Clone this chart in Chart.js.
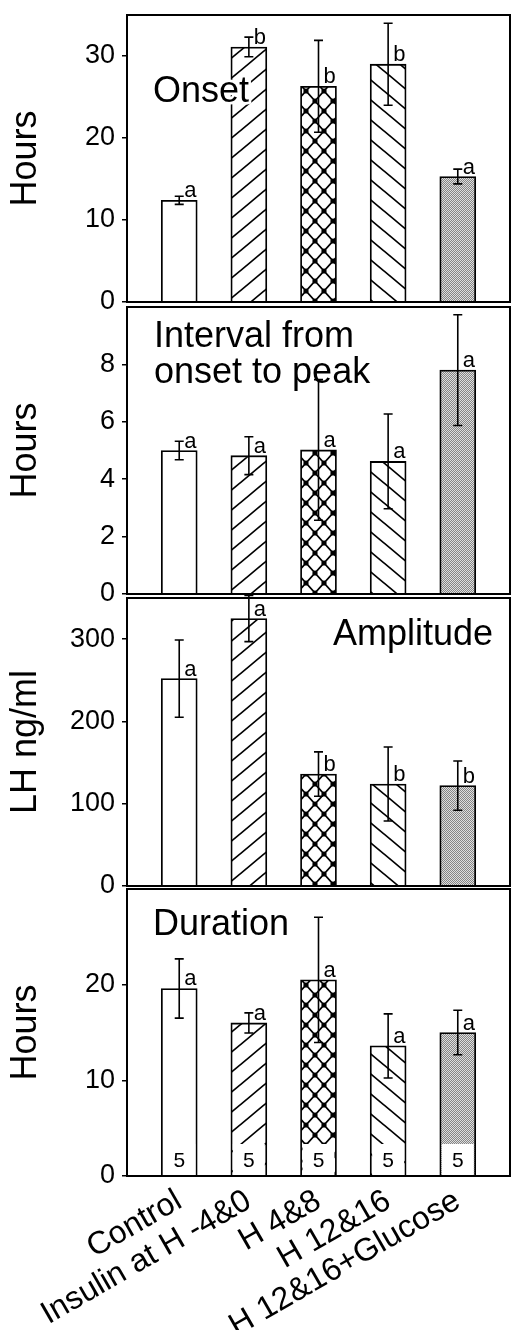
<!DOCTYPE html>
<html>
<head>
<meta charset="utf-8">
<script src="https://cdn.jsdelivr.net/npm/chart.js@4.4.1/dist/chart.umd.min.js"></script>
<style>
  html, body { margin: 0; padding: 0; background: #fff; }
  #wrap { position: relative; width: 512px; height: 1330px; overflow: hidden; }
  canvas { position: absolute; left: 0; }
</style>
</head>
<body>
<div id="wrap">
  <canvas id="onsetChart" width="512" height="335" style="top:-9px"></canvas>
  <canvas id="intervalChart" width="512" height="335" style="top:283px"></canvas>
  <canvas id="amplitudeChart" width="512" height="336" style="top:574px"></canvas>
  <canvas id="durationChart" width="512" height="465" style="top:865px"></canvas>
</div>
<script>
// data
const groups = ['Control', 'Insulin at H -4&0', 'H 4&8', 'H 12&16', 'H 12&16+Glucose'];

const onsetMean = [12.4, 31.1, 26.3, 29.0, 15.3];
const onsetErr = [0.5, 1.2, 5.6, 5.0, 0.9];
const onsetLetters = ['a', 'b', 'b', 'b', 'a'];

const intervalMean = [5.0, 4.82, 5.02, 4.62, 7.8];
const intervalErr = [0.32, 0.66, 2.45, 1.65, 1.93];
const intervalLetters = ['a', 'a', 'a', 'a', 'a'];

const amplitudeMean = [252, 325, 136, 124, 122];
const amplitudeErr = [47, 28, 27, 45, 30];
const amplitudeLetters = ['a', 'a', 'b', 'b', 'b'];

const durationMean = [19.6, 16.0, 20.5, 13.6, 15.0];
const durationErr = [3.1, 1.05, 6.55, 3.35, 2.33];
const durationLetters = ['a', 'a', 'a', 'a', 'a'];
const nAnimals = [5, 5, 5, 5, 5];

const FONT = '"Liberation Sans", Arial, Helvetica, sans-serif';

// pola isi batang
function hatch(dir) {
  const c = document.createElement('canvas');
  c.width = 24; c.height = 20;
  const g = c.getContext('2d');
  g.fillStyle = '#fff';
  g.fillRect(0, 0, 24, 20);
  g.strokeStyle = '#000';
  g.lineWidth = 1.7;
  for (let k = -1; k <= 1; k++) {
    g.beginPath();
    if (dir > 0) {
      g.moveTo(-24, 40 + k * 20);
      g.lineTo(48, -20 + k * 20);
    } else {
      g.moveTo(-24, -20 + k * 20);
      g.lineTo(48, 40 + k * 20);
    }
    g.stroke();
  }
  return g.createPattern(c, 'repeat');
}

function crossHatch() {
  const w = 18, h = 20;
  const c = document.createElement('canvas');
  c.width = w; c.height = h;
  const g = c.getContext('2d');
  g.fillStyle = '#fff';
  g.fillRect(0, 0, w, h);
  g.strokeStyle = '#000';
  g.lineWidth = 1.8;
  g.beginPath();
  g.moveTo(0, 0); g.lineTo(w, h);
  g.moveTo(w, 0); g.lineTo(0, h);
  g.stroke();
  g.fillStyle = '#000';
  [[0, 0], [w, 0], [0, h], [w, h], [w / 2, h / 2]].forEach(p => {
    g.beginPath();
    g.arc(p[0], p[1], 2.6, 0, Math.PI * 2);
    g.fill();
  });
  return g.createPattern(c, 'repeat');
}

function stipple() {
  const c = document.createElement('canvas');
  c.width = 2; c.height = 2;
  const g = c.getContext('2d');
  g.fillStyle = '#dedede';
  g.fillRect(0, 0, 2, 2);
  g.fillStyle = '#858585';
  g.fillRect(0, 0, 1, 1);
  g.fillRect(1, 1, 1, 1);
  return g.createPattern(c, 'repeat');
}

const barFills = ['#ffffff', hatch(1), crossHatch(), hatch(-1), stipple()];

// kotak panel, judul, error bar, huruf, jumlah n
const panelDecor = {
  id: 'panelDecor',
  afterDatasetsDraw(chart, args, opts) {
    const { ctx, chartArea: a, scales: { x, y } } = chart;
    ctx.save();

    if (opts.counts) {
      const y0 = y.getPixelForValue(0);
      opts.counts.forEach((n, i) => {
        const px = x.getPixelForValue(i + 1);
        ctx.fillStyle = '#fff';
        ctx.fillRect(px - 16, y0 - 32, 32, 32);
        ctx.fillStyle = '#000';
        ctx.font = '21px ' + FONT;
        ctx.textAlign = 'center';
        ctx.textBaseline = 'alphabetic';
        ctx.fillText(String(n), px, y0 - 9);
      });
    }

    // judul panel
    ctx.font = '36px ' + FONT;
    ctx.textBaseline = 'alphabetic';
    ctx.textAlign = opts.titleAlign;
    const tx = opts.titleAlign === 'left' ? a.left + opts.titleDx : a.right - opts.titleDx;
    opts.title.forEach((line, k) => {
      const ty = a.top + opts.titleDy + k * 36;
      ctx.strokeStyle = '#fff';
      ctx.lineWidth = 5;
      ctx.strokeText(line, tx, ty);
      ctx.fillStyle = '#000';
      ctx.fillText(line, tx, ty);
    });

    // error bar + huruf
    ctx.strokeStyle = '#000';
    ctx.lineWidth = 1.6;
    ctx.fillStyle = '#000';
    ctx.font = '22px ' + FONT;
    ctx.textAlign = 'left';
    opts.mean.forEach((m, i) => {
      const px = x.getPixelForValue(i + 1);
      const top = y.getPixelForValue(m + opts.err[i]);
      const bot = y.getPixelForValue(m - opts.err[i]);
      ctx.beginPath();
      ctx.moveTo(px, top); ctx.lineTo(px, bot);
      ctx.moveTo(px - 4.5, top); ctx.lineTo(px + 4.5, top);
      ctx.moveTo(px - 4.5, bot); ctx.lineTo(px + 4.5, bot);
      ctx.stroke();
      ctx.fillText(opts.letters[i], px + 5, y.getPixelForValue(m) - 3);
    });

    // bingkai
    ctx.lineWidth = 2;
    ctx.strokeRect(a.left, a.top, a.right - a.left, a.bottom - a.top);
    ctx.restore();
  }
};

function makePanel(id, cfg) {
  const showX = !!cfg.showX;
  return new Chart(document.getElementById(id), {
    type: 'bar',
    data: {
      datasets: [{
        data: cfg.mean.map((v, i) => ({ x: i + 1, y: v })),
        backgroundColor: barFills,
        borderColor: '#000',
        borderWidth: 1.8,
        barThickness: 36
      }]
    },
    options: {
      responsive: false,
      animation: false,
      events: [],
      layout: { padding: { top: 24, bottom: showX ? 0 : 24, left: 0, right: 2 } },
      plugins: {
        legend: { display: false },
        tooltip: { enabled: false },
        panelDecor: {
          mean: cfg.mean, err: cfg.err, letters: cfg.letters,
          title: cfg.title, titleAlign: cfg.titleAlign || 'left',
          titleDx: cfg.titleDx, titleDy: cfg.titleDy,
          counts: cfg.counts
        }
      },
      scales: {
        x: {
          type: 'linear',
          min: 0.25,
          max: 5.75,
          offset: false,
          display: showX,
          grid: { display: false, drawTicks: false, offset: false },
          border: { display: false },
          afterBuildTicks: (scale) => {
            scale.ticks = groups.map((g, i) => ({ value: i + 1 }));
          },
          afterFit: (scale) => { if (showX) scale.height = 154; },
          ticks: {
            autoSkip: false,
            minRotation: 30,
            maxRotation: 30,
            padding: 6,
            color: '#000',
            font: { family: FONT, size: 32 },
            callback: (v) => groups[v - 1]
          }
        },
        y: {
          min: 0,
          max: cfg.max,
          afterBuildTicks: (scale) => {
            scale.ticks = scale.ticks.filter(t => t.value < cfg.max);
          },
          afterFit: (scale) => { scale.width = 127; },
          grid: { drawOnChartArea: false, drawTicks: true, tickLength: 5, color: '#000', lineWidth: 1.5 },
          border: { display: false },
          ticks: {
            stepSize: cfg.step,
            padding: 7,
            color: '#000',
            font: { family: FONT, size: 27 }
          },
          title: {
            display: true,
            text: cfg.yTitle,
            color: '#000',
            font: { family: FONT, size: 36 },
            padding: { top: 4, bottom: 4 }
          }
        }
      }
    },
    plugins: [panelDecor]
  });
}

window.onload = () => {
  makePanel('onsetChart', {
    mean: onsetMean, err: onsetErr, letters: onsetLetters,
    max: 35, step: 10, yTitle: 'Hours',
    title: ['Onset'], titleDx: 26, titleDy: 87
  });
  makePanel('intervalChart', {
    mean: intervalMean, err: intervalErr, letters: intervalLetters,
    max: 10, step: 2, yTitle: 'Hours',
    title: ['Interval from', 'onset to peak'], titleDx: 27, titleDy: 40
  });
  makePanel('amplitudeChart', {
    mean: amplitudeMean, err: amplitudeErr, letters: amplitudeLetters,
    max: 350, step: 100, yTitle: 'LH ng/ml',
    title: ['Amplitude'], titleAlign: 'right', titleDx: 17, titleDy: 47
  });
  makePanel('durationChart', {
    mean: durationMean, err: durationErr, letters: durationLetters,
    max: 30, step: 10, yTitle: 'Hours',
    title: ['Duration'], titleDx: 26, titleDy: 46,
    counts: nAnimals, showX: true
  });
};
</script>
</body>
</html>
